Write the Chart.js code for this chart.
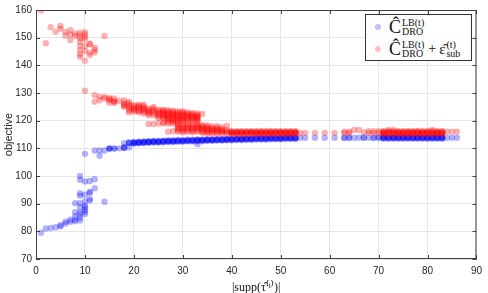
<!DOCTYPE html>
<html>
<head>
<meta charset="utf-8">
<script src="https://cdn.jsdelivr.net/npm/chart.js@4.4.0/dist/chart.umd.min.js"></script>
<style>
  body { margin: 0; background: #fff; overflow: hidden; }
  #wrap { position: relative; width: 488px; height: 293px; }
  #legend {
    position: absolute; left: 365px; top: 14px; width: 107px; height: 47px;
    border: 1px solid #333; background: #fff; box-sizing: border-box;
    font-family: "Liberation Serif", serif; color: #111;
  }
  .row { position: absolute; left: 0; height: 22px; display: flex; align-items: center; white-space: nowrap; }
  .dot { width: 6px; height: 6px; border-radius: 50%; margin-left: 9px; margin-right: 8px; }
  .big { font-size: 18px; line-height: 18px; }
  .ss { display: inline-flex; flex-direction: column; font-size: 10px; line-height: 9px; margin-left: 1px; }
  .plus { font-size: 14px; margin: 0 3px 0 4px; }
</style>
</head>
<body>
<div id="wrap">
  <canvas id="myChart" width="488" height="293"></canvas>
  <div id="legend">
    <div class="row" style="top:1px"><span class="dot" style="background:rgba(0,0,255,0.25)"></span><span class="big">Ĉ</span><span class="ss"><span>LB(t)</span><span>DRO</span></span></div>
    <div class="row" style="top:23px"><span class="dot" style="background:rgba(255,0,0,0.25)"></span><span class="big">Ĉ</span><span class="ss"><span>LB(t)</span><span>DRO</span></span><span class="plus">+</span><span class="big" style="font-size:15px">ε̂</span><span class="ss"><span>(t)</span><span>sub</span></span></div>
  </div>
</div>
<script>
// tick values
const xTicks = [0, 10, 20, 30, 40, 50, 60, 70, 80, 90];
const yTicks = [70, 80, 90, 100, 110, 120, 130, 140, 150, 160];

// lower bound C_DRO^LB(t): [support size, values at that size]
const lbCols = [
  [1, [79.5]], [2, [81]], [3, [81.2]], [4, [81.5]], [5, [81.8, 82.2]],
  [6, [82.8, 83.5]], [7, [83.5, 84.2]], [8, [83.6, 84.2, 85.4, 86.9, 90.2]],
  [9, [83.9, 84.9, 86.1, 86.9, 88.7, 90.2, 92.9, 93.8, 98.6, 100]],
  [10, [86.3, 87.1, 87.9, 88.7, 89.3, 90.8, 93.2, 98, 108]],
  [11, [91.1, 91.7, 94, 94.2, 98.2]], [12, [95.6, 98.8, 109.2]], [13, [107.3, 109.2]],
  [14, [90.7, 109.2]], [15, [109.9, 109.9, 110]], [16, [109.9, 110]], [17, [110]],
  [18, [110.2, 110.2, 110.3, 111.9]], [19, [110.4, 111.9, 112, 112.1]],
  [20, [111.7, 111.9, 112, 112.1, 112.3]], [21, [111.8, 112, 112.1, 112.2, 112.4]],
  [22, [111.9, 112.1, 112.2, 112.3, 112.5]], [23, [112, 112.2, 112.3, 112.4, 112.6]],
  [24, [112.1, 112.3, 112.4, 112.5, 112.7]], [25, [112.1, 112.3, 112.4, 112.5, 112.7]],
  [26, [112.2, 112.4, 112.5, 112.6, 112.8]], [27, [112.3, 112.5, 112.6, 112.7, 112.9]],
  [28, [112.3, 112.5, 112.6, 112.7, 112.9]], [29, [112.4, 112.6, 112.7, 112.8, 113]],
  [30, [112.4, 112.6, 112.7, 112.8, 113]], [31, [112.5, 112.7, 112.8, 112.9, 113.1]],
  [32, [112.5, 112.7, 112.8, 112.9, 113.1]], [33, [111.5, 112.6, 112.8, 112.9, 113, 113.2]],
  [34, [112.6, 112.8, 112.9, 113, 113.2]], [35, [112.7, 112.9, 113, 113.1, 113.3]],
  [36, [112.7, 112.9, 113, 113.1, 113.3]], [37, [112.8, 113, 113.1, 113.2, 113.4]],
  [38, [112.8, 113, 113.1, 113.2, 113.4]], [39, [112.9, 113.1, 113.2, 113.3, 113.5]],
  [40, [112.9, 113.1, 113.2, 113.3, 113.5]], [41, [113, 113.2, 113.3, 113.4, 113.6]],
  [42, [113, 113.2, 113.3, 113.4, 113.6]], [43, [113.1, 113.3, 113.4, 113.5, 113.7]],
  [44, [113.1, 113.3, 113.4, 113.5, 113.7]], [45, [113.2, 113.4, 113.5, 113.6, 113.8]],
  [46, [113.2, 113.4, 113.5, 113.6, 113.8]], [47, [113.2, 113.4, 113.5, 113.6, 113.8]],
  [48, [113.3, 113.5, 113.6, 113.7, 113.9]], [49, [113.3, 113.5, 113.6, 113.7, 113.9]],
  [50, [113.3, 113.5, 113.6, 113.7, 113.9]], [51, [113.4, 113.6, 113.7, 113.8, 114]],
  [52, [113.4, 113.6, 113.7, 113.8, 114]], [53, [113.4, 113.6, 113.7, 113.8, 114]],
  [54, [113.8]], [55, [113.8]], [57, [113.8]], [59, [113.8]], [61, [113.8]],
  [63, [113.7, 113.9]], [64, [113.7, 113.9]], [65, [113.8]], [66, [113.8]],
  [67, [113.8, 113.9]], [68, [113.8]], [69, [113.7, 113.9]], [70, [113.8, 113.9]],
  [71, [113.5, 113.7, 113.8, 113.9, 114.1]], [72, [113.5, 113.7, 113.8, 113.9, 114.1]],
  [73, [113.5, 113.7, 113.8, 113.9, 114.1]], [74, [113.5, 113.7, 113.8, 113.9, 114.1]],
  [75, [113.5, 113.7, 113.8, 113.9, 114.1]], [76, [113.5, 113.7, 113.8, 113.9, 114.1]],
  [77, [113.5, 113.7, 113.8, 113.9, 114.1]], [78, [113.5, 113.7, 113.8, 113.9, 114.1]],
  [79, [113.5, 113.7, 113.8, 113.9, 114.1]], [80, [113.5, 113.7, 113.8, 113.9, 114.1]],
  [81, [113.5, 113.7, 113.8, 113.9, 114.1]], [82, [113.5, 113.7, 113.8, 113.9, 114.1]],
  [83, [113.5, 113.7, 113.8, 113.9, 114.1]], [84, [113.8]], [85, [113.8]], [86, [113.8]]
];

// C_DRO^LB(t) + eps_sub(t)
const ubCols = [
  [1, [159.8]], [2, [148]], [3, [153.8]], [4, [152.1]], [5, [153.2, 154.2]],
  [6, [150.8, 152.1]], [7, [149.2, 151.2, 152.7]], [8, [150.6, 151.5]],
  [9, [143.1, 144, 145.5, 147, 148.5, 149.8, 150.8, 151.8]],
  [10, [130.8, 141.7, 145.2, 147, 149.4, 150.2, 151.2, 152]],
  [11, [143.7, 144.6, 147.6, 147.8]], [12, [126.8, 129.2, 144.6, 145.6, 146.4]],
  [13, [127.4, 128.6]], [14, [128, 128.6, 150.6]], [15, [126.5, 127.4, 127.8, 128.2]],
  [16, [126.4, 126.8, 127.2, 128]], [17, [127.2]], [18, [125, 125.4, 125.8, 126.4, 127.4]],
  [19, [123, 123.6, 124.4, 125, 125.6, 126.2, 126.8]],
  [20, [123.2, 123.8, 124.2, 124.6, 125.2, 125.6]],
  [21, [123, 123.4, 123.8, 124.4, 125, 125.4, 125.8]],
  [22, [122.6, 123.2, 123.8, 124.2, 124.6, 125.2, 125.8]],
  [23, [118.8, 122, 122.6, 123, 123.5, 124, 124.4]],
  [24, [118.8, 122, 122.6, 123.2, 123.8, 124.4, 125]],
  [25, [119, 121, 121.6, 122, 122.6, 123, 123.6, 124]],
  [26, [119, 119.4, 120.8, 121.2, 121.6, 122, 122.4, 122.8, 123.2, 123.6, 124]],
  [27, [116, 119, 119.4, 120.2, 120.6, 121, 121.4, 121.8, 122.2, 122.6, 123, 123.4, 123.8]],
  [28, [116.2, 119, 119.4, 120, 120.4, 120.8, 121.2, 121.6, 122, 122.4, 122.8, 123.2, 123.6]],
  [29, [116, 116.5, 117, 117.5, 118, 118.5, 119, 119.8, 120.2, 120.6, 121, 121.4, 121.8, 122.2, 122.6, 123, 123.4]],
  [30, [115.8, 116.2, 116.8, 117.2, 117.6, 118.2, 118.6, 119.8, 120.2, 120.6, 121, 121.4, 121.8, 122.2, 122.6, 123, 123.4]],
  [31, [116, 116.4, 117, 117.4, 118, 118.5, 119, 120.2, 120.6, 121, 121.4, 121.8, 122.2, 122.6, 123]],
  [32, [115.8, 116.2, 116.8, 117.2, 117.6, 118.2, 118.6, 120, 120.4, 120.8, 121.2, 121.6, 122, 122.4, 122.8]],
  [33, [116, 116.4, 117, 117.4, 117.8, 118.2, 118.6, 119.8, 120.2, 120.6, 121, 121.4, 121.8, 122.2, 122.6]],
  [34, [115.6, 116, 116.4, 116.8, 117.2, 117.6, 118, 118.4, 122.4]],
  [35, [115.4, 115.8, 116.2, 116.6, 117, 117.4, 117.8, 118.4]],
  [36, [115.4, 115.8, 116.2, 116.6, 117, 117.4, 118]],
  [37, [115.4, 115.8, 116.2, 116.6, 117, 117.4, 118]],
  [38, [115.4, 115.8, 116.2, 116.6, 117, 117.6]],
  [39, [115.4, 115.8, 116.2, 116.6, 118.2]],
  [40, [115.2, 115.4, 115.6, 115.8, 116, 116.2]], [41, [115.2, 115.4, 115.6, 115.8, 116, 116.2]],
  [42, [115.2, 115.4, 115.6, 115.8, 116, 116.2]], [43, [115.2, 115.4, 115.6, 115.8, 116, 116.2]],
  [44, [115.2, 115.4, 115.6, 115.8, 116, 116.2]], [45, [115.2, 115.4, 115.6, 115.8, 116, 116.2]],
  [46, [115.2, 115.4, 115.6, 115.8, 116, 116.3]], [47, [115.2, 115.4, 115.6, 115.8, 116, 116.2]],
  [48, [115.2, 115.4, 115.6, 115.8, 116, 116.3]], [49, [115.2, 115.4, 115.6, 115.8, 116, 116.2]],
  [50, [115.2, 115.4, 115.6, 115.8, 116, 116.2]], [51, [115.2, 115.4, 115.6, 115.8, 116, 116.2]],
  [52, [115.2, 115.4, 115.6, 115.8, 116, 116.2]], [53, [115.2, 115.4, 115.6, 115.8, 116, 116.2]],
  [54, [115.6]], [55, [115.6]], [57, [115.6]], [59, [115.6]], [61, [115.6]],
  [63, [115.6, 116]], [64, [115.6, 116]], [65, [116.6]], [66, [116.6]], [67, [115.8]],
  [68, [115.6, 116.2]], [69, [115.6, 116.2]], [70, [115.6, 116.2]],
  [71, [115.2, 115.4, 115.6, 115.8, 116, 116.2]], [72, [115.2, 115.4, 115.7, 115.9, 116.2, 116.6]],
  [73, [115.2, 115.4, 115.6, 115.8, 116.2, 116.6]], [74, [115.2, 115.4, 115.6, 115.8, 116, 116.2]],
  [75, [115.2, 115.4, 115.6, 115.8, 116, 116.2]], [76, [115.2, 115.4, 115.6, 115.8, 116, 116.3]],
  [77, [115.2, 115.4, 115.6, 115.8, 116, 116.2]], [78, [115.2, 115.4, 115.7, 115.9, 116.1, 116.3]],
  [79, [115.2, 115.4, 115.6, 115.8, 116, 116.2]], [80, [115.2, 115.4, 115.6, 115.8, 116, 116.4]],
  [81, [115.2, 115.4, 115.7, 115.9, 116.2, 116.6]], [82, [115.2, 115.4, 115.6, 115.8, 116, 116.2]],
  [83, [115.2, 115.4, 115.6, 115.8, 116, 116.2]], [84, [116]], [85, [116]], [86, [116]]
];

function toPoints(cols) {
  const pts = [];
  cols.forEach(([x, ys]) => ys.forEach(y => pts.push({x: x, y: y})));
  return pts;
}

// box around the axes with inward ticks
const frame = {
  id: 'frame',
  afterDraw(chart) {
    const {ctx, chartArea: a, scales} = chart;
    ctx.save();
    ctx.strokeStyle = '#404040';
    ctx.lineWidth = 1;
    ctx.strokeRect(a.left + 0.5, a.top + 0.5, a.right - a.left - 1, a.bottom - a.top - 1);
    ctx.beginPath();
    xTicks.forEach(v => {
      const p = Math.round(scales.x.getPixelForValue(v)) + 0.5;
      ctx.moveTo(p, a.bottom); ctx.lineTo(p, a.bottom - 4);
      ctx.moveTo(p, a.top); ctx.lineTo(p, a.top + 4);
    });
    yTicks.forEach(v => {
      const p = Math.round(scales.y.getPixelForValue(v)) + 0.5;
      ctx.moveTo(a.left, p); ctx.lineTo(a.left + 4, p);
      ctx.moveTo(a.right, p); ctx.lineTo(a.right - 4, p);
    });
    ctx.stroke();
    ctx.restore();
  }
};

const ctx = document.getElementById('myChart').getContext('2d');
const tickFont = {family: 'Liberation Sans', size: 10};

const myChart = new Chart(ctx, {
  type: 'scatter',
  data: {
    datasets: [{
      label: 'LB',
      data: toPoints(lbCols),
      pointBackgroundColor: 'rgba(0,0,255,0.3)',
      pointBorderWidth: 0,
      pointRadius: 3.2,
      order: 1
    }, {
      label: 'LB + eps',
      data: toPoints(ubCols),
      pointBackgroundColor: 'rgba(255,0,0,0.3)',
      pointBorderWidth: 0,
      pointRadius: 3.2,
      order: 0
    }]
  },
  options: {
    responsive: false,
    animation: false,
    devicePixelRatio: 1,
    layout: {padding: {left: 0, right: 10, top: 7, bottom: 0}},
    plugins: {legend: {display: false}, tooltip: {enabled: false}},
    scales: {
      x: {
        type: 'linear', min: 0, max: 90,
        afterFit: s => { s.height = 34; },
        afterBuildTicks: s => { s.ticks = xTicks.map(v => ({value: v})); },
        grid: {color: '#e6e6e6', drawTicks: false},
        border: {display: false},
        ticks: {font: tickFont, color: '#262626', padding: 6, maxRotation: 0},
        title: {display: true, text: '|supp(τ̂⁽ᵗ⁾)|', font: {family: 'Liberation Serif', size: 12}, color: '#111', padding: {top: 0, bottom: -2}}
      },
      y: {
        type: 'linear', min: 70, max: 160,
        afterFit: s => { s.width = 36; },
        afterBuildTicks: s => { s.ticks = yTicks.map(v => ({value: v})); },
        grid: {color: '#e6e6e6', drawTicks: false},
        border: {display: false},
        ticks: {font: tickFont, color: '#262626', padding: 4},
        title: {display: true, text: 'objective', font: {family: 'Liberation Sans', size: 11}, color: '#262626', padding: {top: 2, bottom: 0}}
      }
    }
  },
  plugins: [frame]
});
</script>
</body>
</html>
